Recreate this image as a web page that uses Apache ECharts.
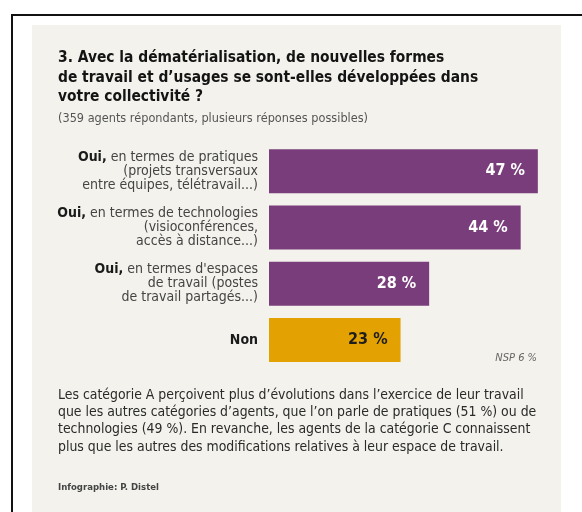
<!DOCTYPE html>
<html>
<head>
<meta charset="utf-8">
<script src="https://cdn.jsdelivr.net/npm/echarts@6/dist/echarts.min.js"></script>
<style>
html,body{margin:0;padding:0;background:#fff;}
#c{width:582px;height:512px;}
</style>
</head>
<body>
<div id="c"></div>
<script>
var categories = [
  "{b|Oui,} en termes de pratiques\n(projets transversaux\nentre équipes, télétravail...)",
  "{b|Oui,} en termes de technologies\n(visioconférences,\naccès à distance...)",
  "{b|Oui,} en termes d'espaces\nde travail (postes\nde travail partagés...)",
  "{b|Non}"
];
var values = [47, 44, 28, 23];
var valueLabels = ["47 %", "44 %", "28 %", "23 %"];
var titleLines = [
  "3. Avec la dématérialisation, de nouvelles formes",
  "de travail et d\u2019usages se sont-elles développées dans",
  "votre collectivité ?"
];
var subtitle = "(359 agents répondants, plusieurs réponses possibles)";
var nspNote = "NSP 6 %";
var paragraph = [
  "Les catégorie A perçoivent plus d\u2019évolutions dans l\u2019exercice de leur travail",
  "que les autres catégories d\u2019agents, que l\u2019on parle de pratiques (51 %) ou de",
  "technologies (49 %). En revanche, les agents de la catégorie C connaissent",
  "plus que les autres des modifications relatives à leur espace de travail."
];
var credit = "Infographie: P. Distel";

var FONT = "'Liberation Sans Narrow', 'DejaVu Sans Condensed', sans-serif";
var PURPLE = "#7a3d7b";
var GOLD = "#e3a202";

var chart = echarts.init(document.getElementById('c'), null, {renderer: 'canvas'});

var graphics = [
  {type: 'rect', shape: {x: 12, y: 15, width: 600, height: 520}, style: {fill: '#fff', stroke: '#111', lineWidth: 2}, z: -10, silent: true},
  {type: 'rect', shape: {x: 32, y: 25, width: 529, height: 500}, style: {fill: '#f3f2ec'}, z: -9, silent: true}
];
titleLines.forEach(function (t, i) {
  graphics.push({type: 'text', x: 58, y: 58 + i * 19.5, style: {text: t, font: "bold 15.4px " + FONT, fill: '#141414', textVerticalAlign: 'middle'}});
});
graphics.push({type: 'text', x: 58, y: 119, style: {text: subtitle, font: "12.6px " + FONT, fill: '#555', textVerticalAlign: 'middle'}});
graphics.push({type: 'text', x: 537, y: 358, style: {text: nspNote, font: "italic 11px " + FONT, fill: '#666', textAlign: 'right', textVerticalAlign: 'middle'}});
paragraph.forEach(function (t, i) {
  graphics.push({type: 'text', x: 58, y: 395 + i * 17.3, style: {text: t, font: "13.9px " + FONT, fill: '#2a2a2a', textVerticalAlign: 'middle'}});
});
graphics.push({type: 'text', x: 58, y: 488, style: {text: credit, font: "bold 9.5px " + FONT, fill: '#444', textVerticalAlign: 'middle'}});

chart.setOption({
  animation: false,
  grid: {left: 269, right: 27, top: 143, bottom: 144, containLabel: false},
  xAxis: {type: 'value', min: 0, max: 50, show: false},
  yAxis: {
    type: 'category', data: categories, inverse: true,
    axisLine: {show: false}, axisTick: {show: false},
    axisLabel: {
      margin: 11, align: 'right',
      fontFamily: FONT, fontSize: 14, color: '#444', lineHeight: 14,
      rich: {b: {fontFamily: FONT, fontSize: 14, fontWeight: 'bold', color: '#1a1a1a', lineHeight: 14}}
    }
  },
  series: [{
    type: 'bar', barWidth: 44,
    data: values.map(function (v, i) {
      return {value: v, itemStyle: {color: i === 3 ? GOLD : PURPLE},
        label: {color: i === 3 ? '#1e1e1e' : '#fff'}};
    }),
    label: {
      show: true, position: 'insideRight', distance: 13,
      fontFamily: FONT, fontSize: 16, fontWeight: 'bold',
      formatter: function (p) { return valueLabels[p.dataIndex]; }
    }
  }],
  graphic: graphics
});
</script>
</body>
</html>
